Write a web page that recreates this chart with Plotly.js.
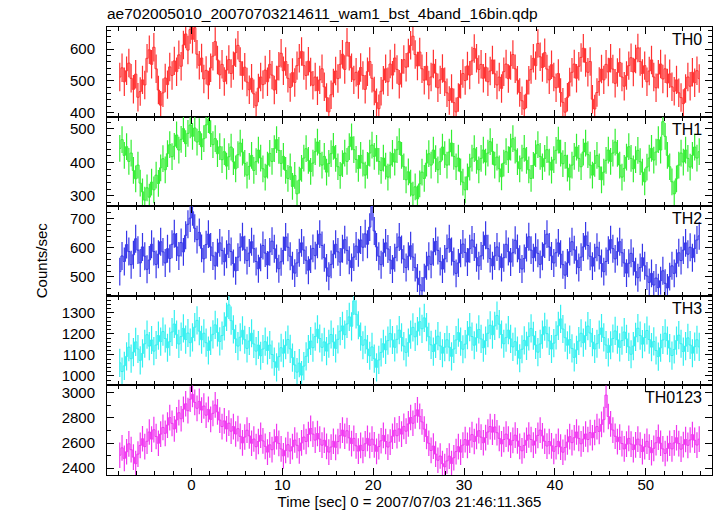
<!DOCTYPE html>
<html>
<head>
<meta charset="utf-8">
<script src="https://cdn.plot.ly/plotly-3.0.1.min.js"></script>
<style>html,body{margin:0;padding:0;background:#fff;}#chart{width:717px;height:516px;}</style>
</head>
<body>
<div id="chart"></div>
<script>
// ---- data (0.25 s bins starting at t = -8 s) ----
const binStart = -8;
const binWidth = 0.25;
const panelNames = ["TH0", "TH1", "TH2", "TH3", "TH0123"];
const yTicks = {
  TH0: [400, 500, 600],
  TH1: [300, 400, 500],
  TH2: [500, 600, 700],
  TH3: [1000, 1100, 1200, 1300],
  TH0123: [2400, 2600, 2800, 3000]
};
// typical 1-sigma error bar half-length (counts/sec)
const errTH0 = 45, errTH1 = 40, errTH2 = 48, errTH3 = 67, errTH0123 = 102;

const th0 = [
 512,541,497,532,556,508,473,521,448,466,503,487,571,598,552,606,
 538,471,423,462,509,488,544,517,563,529,582,546,613,648,597,662,
 631,668,584,549,572,506,533,487,541,578,624,566,519,552,498,534,
 567,523,548,589,612,561,517,543,496,472,508,459,421,477,512,488,
 534,497,552,518,471,503,546,587,532,561,508,479,526,495,548,571,
 593,548,517,562,528,486,512,469,503,538,481,447,402,456,493,531,
 507,552,584,536,622,578,541,503,527,488,542,517,473,529,561,508,
 468,431,412,467,502,538,497,553,518,572,536,489,524,567,543,588,
 612,641,583,547,591,538,502,546,487,512,553,524,478,503,539,497,
 462,438,476,431,402,447,489,523,501,547,518,563,602,571,536,552,
 508,543,497,531,566,522,487,512,476,529,553,507,548,583,538,502,
 463,437,411,458,502,536,571,548,618,576,542,589,537,503,551,512,
 478,523,463,432,401,448,496,527,553,508,546,574,603,558,527,561,
 442,411,463,498,537,503,552,528,571,537,492,526,558,512,483,517,
 548,573,528,569,604,561,523,548,497,531,566,512,478,521,553,506,
 538,493,522,481,467,503,462,447,428,476,512,483,527,494,532,507
];
const th1 = [
 442,468,421,447,403,428,376,351,392,338,312,287,324,296,341,318,
 362,337,384,411,378,426,453,417,448,482,437,469,501,456,487,512,
 478,503,461,492,447,471,512,528,486,453,471,426,447,408,432,389,
 417,446,402,381,423,458,431,397,362,388,421,376,402,437,413,381,
 356,392,427,403,441,468,436,397,418,376,352,387,328,361,306,347,
 382,413,441,406,373,398,432,461,427,392,418,371,397,426,448,412,
 387,361,396,428,403,447,476,438,409,382,421,398,362,391,428,452,
 418,442,403,376,413,389,356,392,427,401,438,462,421,387,348,372,
 338,302,327,291,336,371,352,398,426,392,437,411,378,402,446,423,
 392,431,458,418,387,413,372,341,318,357,386,413,441,406,378,412,
 437,401,428,462,433,392,416,381,357,398,432,408,446,471,437,402,
 381,413,442,406,378,352,391,426,453,418,387,412,438,401,377,408,
 436,467,428,396,421,383,356,392,418,446,412,387,431,458,423,392,
 362,397,421,387,348,371,406,437,403,428,461,427,392,356,382,416,
 447,412,381,408,436,402,371,342,386,413,442,407,431,468,437,522,
 478,421,387,342,306,351,392,428,401,437,412,386,421,446,413,432
];
const th2 = [
 518,572,553,611,587,542,576,631,592,548,603,571,526,558,612,587,
 543,578,621,586,548,597,563,612,648,603,572,618,586,643,681,702,
 724,667,628,653,598,562,611,647,603,572,538,583,617,591,552,578,
 613,587,546,521,568,602,638,593,556,582,621,597,553,528,567,608,
 582,541,586,623,597,563,528,552,591,637,602,571,538,513,548,583,
 617,592,557,523,561,598,573,612,647,608,566,531,502,543,578,612,
 586,551,597,628,591,557,532,568,606,583,627,602,648,612,671,742,
 658,603,571,542,583,617,596,558,527,566,602,637,594,561,532,571,
 607,568,532,496,473,452,497,538,571,543,586,622,591,553,527,562,
 598,631,587,553,512,548,581,613,584,551,597,627,603,566,538,572,
 608,643,597,563,538,572,603,571,532,566,612,587,551,583,626,598,
 561,527,563,601,638,592,566,602,581,543,571,613,647,603,572,548,
 583,617,578,542,506,548,587,621,593,557,532,568,603,641,608,571,
 537,566,602,573,546,518,553,592,628,597,562,587,621,583,548,513,
 547,581,553,518,497,532,566,538,503,481,512,472,496,463,487,521,
 478,462,501,538,512,547,583,556,592,617,578,602,566,598,627,641
];
const th3 = [
 1062,1021,1048,1093,1137,1082,1113,1162,1128,1074,1107,1153,1196,1142,1171,1118,
 1147,1192,1163,1211,1178,1134,1163,1209,1247,1196,1152,1187,1226,1173,1204,1158,
 1183,1232,1264,1213,1172,1203,1158,1121,1167,1198,1243,1207,1164,1192,1236,1281,
 1338,1263,1221,1176,1142,1184,1217,1172,1131,1166,1203,1152,1118,1147,1096,1128,
 1163,1121,1147,1102,1068,1041,1092,1134,1108,1146,1173,1129,1087,1052,1018,1061,
 1004,1047,1093,1128,1166,1134,1187,1222,1178,1136,1162,1118,1153,1197,1162,1131,
 1174,1213,1238,1196,1247,1281,1236,1357,1293,1241,1187,1146,1172,1128,1096,1138,
 1082,1041,1076,1112,1153,1124,1168,1202,1171,1136,1174,1218,1183,1142,1112,1158,
 1196,1231,1186,1213,1258,1224,1276,1232,1186,1148,1116,1152,1189,1143,1108,1137,
 1172,1137,1093,1128,1171,1206,1163,1127,1151,1194,1232,1187,1146,1182,1221,1176,
 1134,1168,1203,1241,1196,1238,1287,1246,1197,1153,1182,1218,1176,1138,1163,1121,
 1084,1127,1169,1143,1188,1226,1191,1147,1113,1152,1196,1234,1201,1167,1128,1156,
 1193,1238,1271,1223,1182,1146,1173,1131,1088,1124,1166,1203,1158,1192,1237,1204,
 1161,1128,1153,1196,1228,1183,1147,1112,1146,1178,1214,1172,1136,1168,1209,1176,
 1138,1103,1142,1186,1227,1192,1151,1183,1216,1173,1137,1164,1121,1092,1134,1171,
 1203,1168,1132,1097,1126,1168,1194,1153,1116,1142,1181,1147,1108,1139,1172,1138
];
const th0123 = [
 2503,2562,2478,2531,2594,2547,2488,2436,2512,2581,2634,2572,2614,2688,2631,2706,
 2652,2598,2671,2724,2677,2743,2802,2756,2712,2784,2841,2793,2868,2912,2857,2948,
 2987,2923,2876,2931,2862,2894,2821,2867,2788,2836,2903,2847,2782,2731,2776,2712,
 2758,2694,2731,2672,2714,2653,2601,2648,2702,2657,2598,2632,2571,2612,2662,2617,
 2574,2528,2586,2547,2608,2651,2597,2553,2498,2542,2587,2536,2571,2624,2582,2538,
 2601,2648,2612,2668,2716,2671,2623,2676,2631,2583,2622,2574,2528,2568,2614,2566,
 2612,2658,2703,2654,2698,2641,2596,2637,2578,2536,2582,2541,2594,2637,2582,2631,
 2586,2534,2572,2618,2661,2612,2568,2607,2654,2702,2658,2713,2671,2732,2694,2752,
 2803,2757,2816,2864,2812,2768,2711,2652,2598,2541,2576,2512,2463,2497,2436,2412,
 2458,2496,2437,2483,2532,2571,2528,2584,2627,2582,2623,2667,2612,2653,2698,2647,
 2602,2643,2688,2731,2686,2728,2682,2637,2593,2628,2671,2632,2584,2621,2663,2617,
 2573,2538,2581,2622,2664,2628,2583,2617,2661,2703,2657,2614,2576,2612,2578,2534,
 2572,2613,2568,2527,2564,2608,2651,2603,2642,2688,2637,2594,2631,2672,2628,2683,
 2642,2684,2731,2692,2748,2786,2981,2811,2752,2703,2654,2611,2647,2596,2553,2591,
 2637,2592,2548,2586,2631,2584,2532,2571,2614,2567,2523,2558,2602,2646,2598,2553,
 2517,2556,2598,2553,2601,2642,2596,2551,2587,2628,2582,2624,2667,2622,2584,2631
];

// ---- styling ----
const series = [th0, th1, th2, th3, th0123];
const errs = [errTH0, errTH1, errTH2, errTH3, errTH0123];
const colors = ['#ff3030', '#33ee33', '#3535e8', '#33f0f0', '#f035f0'];
const yRanges = [[387, 670], [269, 537], [435, 743], [955, 1381], [2346, 3058]];
const yMinor = [20, 20, 20, 20, 100];
const FONT = 'Liberation Sans, Arial, Helvetica, sans-serif';

const traces = [];
const layout = {
  width: 717, height: 516,
  margin: {l: 107, r: 5, t: 27, b: 41},
  paper_bgcolor: '#fff', plot_bgcolor: '#fff',
  showlegend: false,
  font: {family: FONT, size: 15, color: '#000'},
  title: {
    text: 'ae702005010_20070703214611_wam1_bst_4band_16bin.qdp',
    font: {family: FONT, size: 15.5, color: '#000'},
    xref: 'paper', x: 0, xanchor: 'left',
    yref: 'container', y: 1 - 14 / 516, yanchor: 'middle'
  },
  annotations: []
};

const n = panelNames.length;
for (let i = 0; i < n; i++) {
  const sfx = i === 0 ? '' : String(i + 1);
  const top = 1 - i / n, bot = 1 - (i + 1) / n;
  traces.push({
    type: 'scatter', mode: 'lines',
    x0: binStart + binWidth / 2, dx: binWidth,
    y: series[i],
    xaxis: 'x' + sfx, yaxis: 'y' + sfx,
    line: {color: colors[i], width: 1, shape: 'hvh'},
    error_y: {type: 'constant', value: errs[i], color: colors[i], thickness: 1.2, width: 0},
    hoverinfo: 'skip'
  });
  layout['xaxis' + sfx] = {
    domain: [0, 1], anchor: 'y' + sfx,
    range: [-9.28, 57.28], autorange: false,
    tickmode: 'linear', tick0: 0, dtick: 10,
    ticks: 'inside', ticklen: 7, tickwidth: 1, tickcolor: '#000',
    minor: {dtick: 2, tick0: 0, ticks: 'inside', ticklen: 4, tickcolor: '#000', tickwidth: 1, showgrid: false},
    showline: true, linecolor: '#000', linewidth: 1, mirror: 'ticks',
    showgrid: false, zeroline: false,
    showticklabels: i === n - 1,
    ticklabelstandoff: -4,
    tickfont: {family: FONT, size: 15, color: '#000'}
  };
  if (i > 0) layout['xaxis' + sfx].matches = 'x';
  layout['yaxis' + sfx] = {
    domain: [bot, top], anchor: 'x' + sfx,
    range: yRanges[i], autorange: false,
    tickmode: 'array', tickvals: yTicks[panelNames[i]],
    ticks: 'inside', ticklen: 7, tickwidth: 1, tickcolor: '#000',
    minor: {dtick: yMinor[i], tick0: 0, ticks: 'inside', ticklen: 4, tickcolor: '#000', tickwidth: 1, showgrid: false},
    showline: true, linecolor: '#000', linewidth: 1, mirror: 'ticks',
    showgrid: false, zeroline: false,
    ticklabelstandoff: 8,
    tickfont: {family: FONT, size: 15, color: '#000'}
  };
  layout.annotations.push({
    text: panelNames[i], showarrow: false,
    xref: 'paper', x: 1, xanchor: 'right', xshift: -8,
    yref: 'y' + sfx + ' domain', y: 1, yanchor: 'top', yshift: -2,
    font: {family: FONT, size: 16, color: '#000'}
  });
}
layout.xaxis5.title = {text: 'Time [sec] 0 = 2007/07/03 21:46:11.365', font: {family: FONT, size: 15, color: '#000'}, standoff: 0};
layout.annotations.push({
  text: 'Counts/sec', showarrow: false, textangle: -90,
  xref: 'paper', x: -0.107, xanchor: 'center',
  yref: 'paper', y: 0.48, yanchor: 'middle',
  font: {family: FONT, size: 15, color: '#000'}
});

Plotly.newPlot('chart', traces, layout, {staticPlot: true, displayModeBar: false});
</script>
</body>
</html>
